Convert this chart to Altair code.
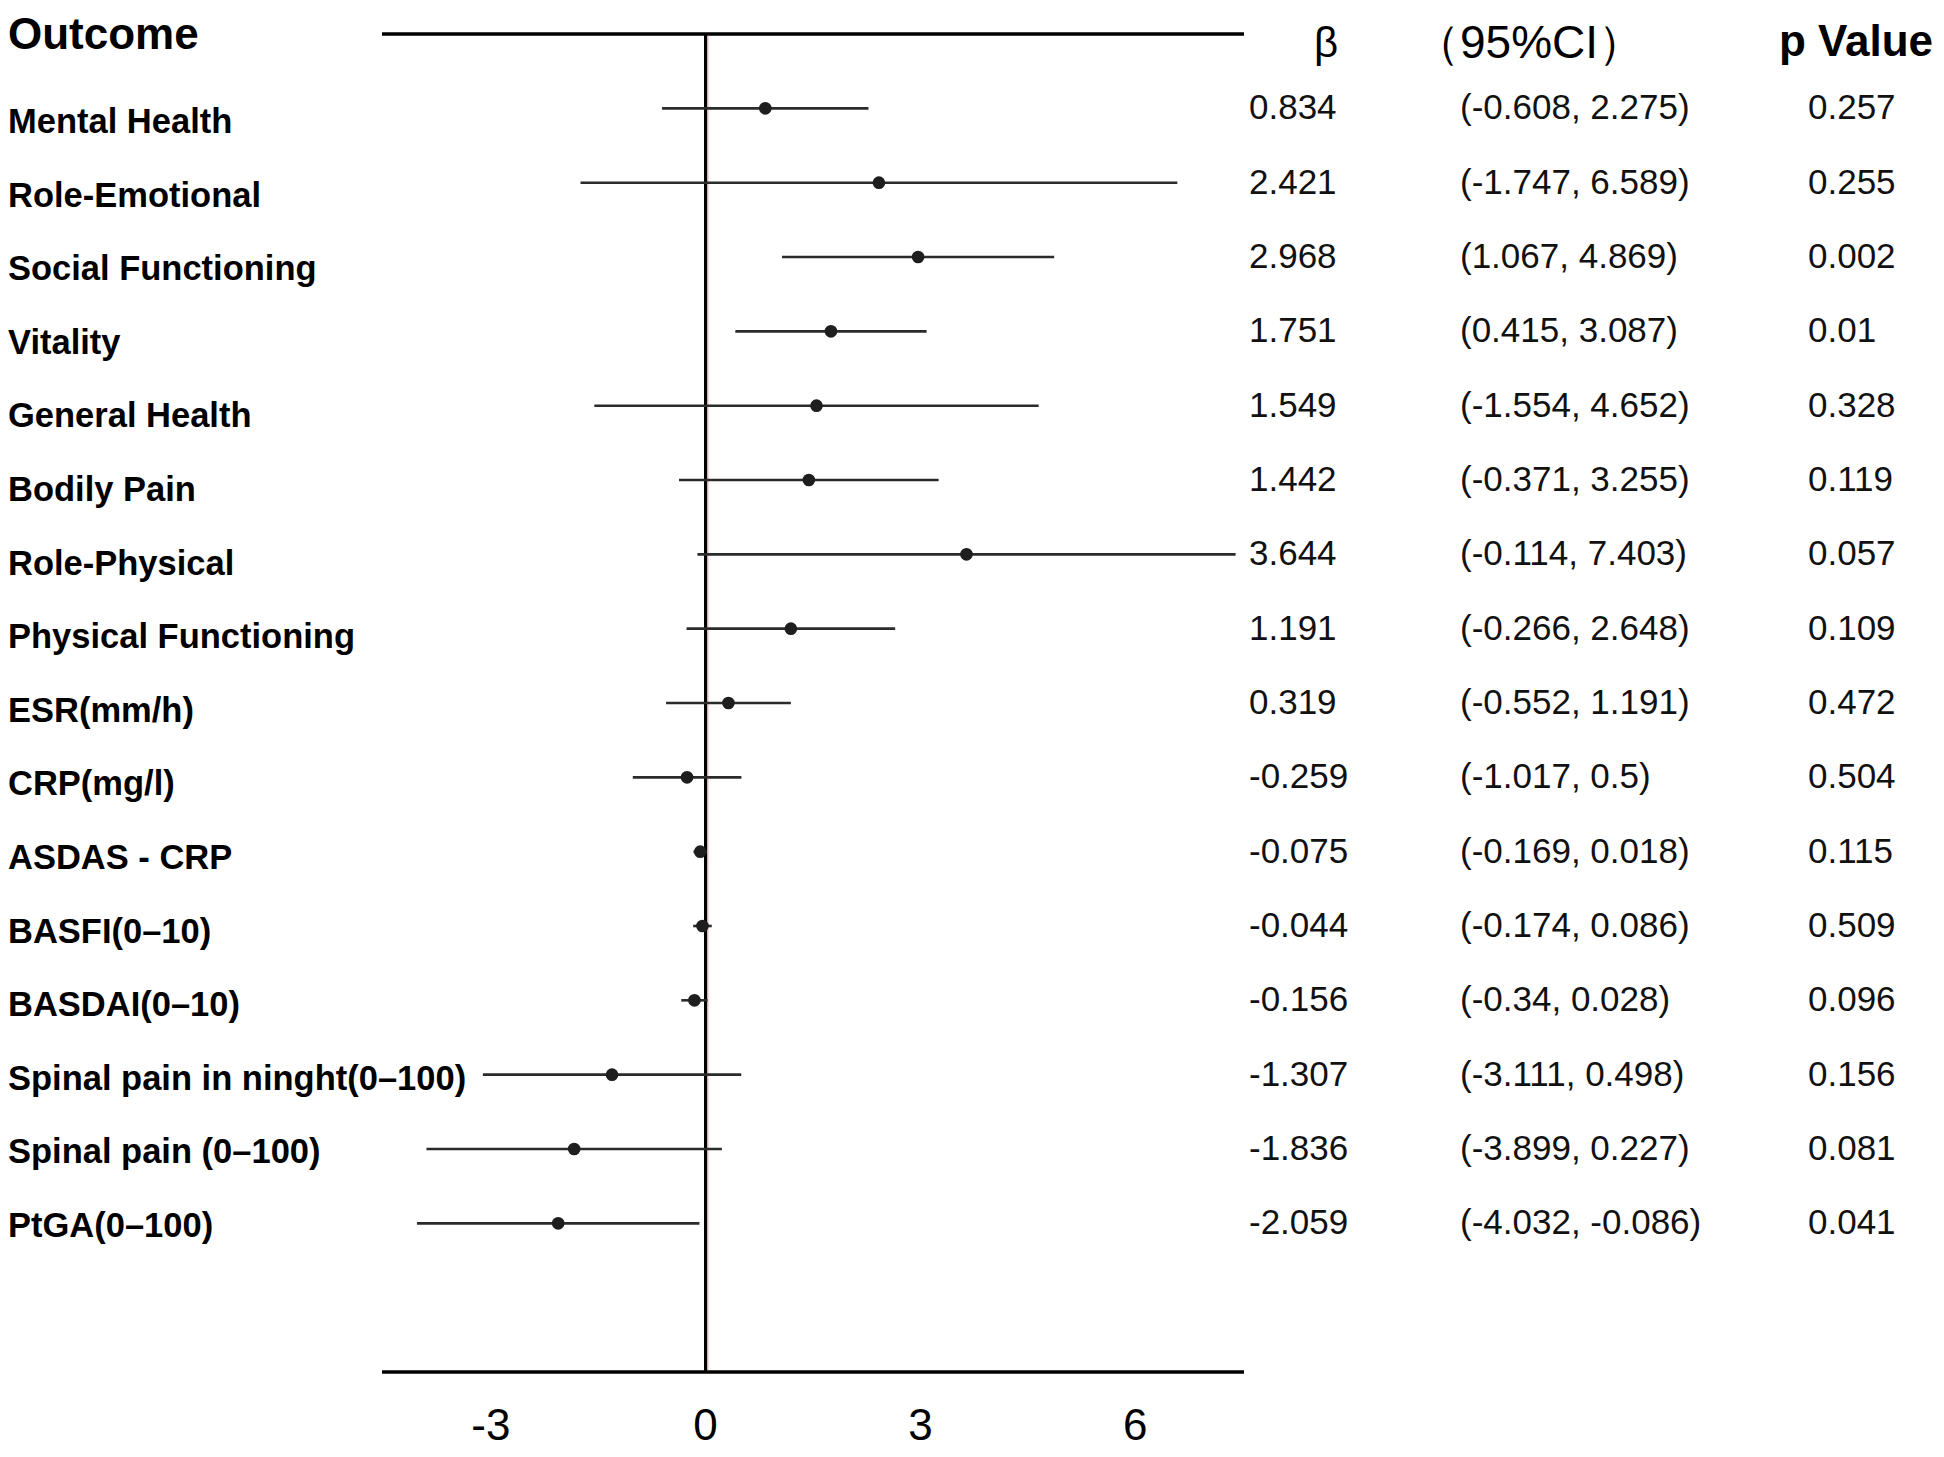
import altair as alt
import pandas as pd

# ---------------- data ----------------
outcomes = [
    "Mental Health", "Role-Emotional", "Social Functioning", "Vitality",
    "General Health", "Bodily Pain", "Role-Physical", "Physical Functioning",
    "ESR(mm/h)", "CRP(mg/l)", "ASDAS - CRP", "BASFI(0–10)", "BASDAI(0–10)",
    "Spinal pain in ninght(0–100)", "Spinal pain (0–100)", "PtGA(0–100)",
]
beta = [0.834, 2.421, 2.968, 1.751, 1.549, 1.442, 3.644, 1.191,
        0.319, -0.259, -0.075, -0.044, -0.156, -1.307, -1.836, -2.059]
ci_low = [-0.608, -1.747, 1.067, 0.415, -1.554, -0.371, -0.114, -0.266,
          -0.552, -1.017, -0.169, -0.174, -0.34, -3.111, -3.899, -4.032]
ci_high = [2.275, 6.589, 4.869, 3.087, 4.652, 3.255, 7.403, 2.648,
           1.191, 0.5, 0.018, 0.086, 0.028, 0.498, 0.227, -0.086]
p_values = ["0.257", "0.255", "0.002", "0.01", "0.328", "0.119", "0.057", "0.109",
            "0.472", "0.504", "0.115", "0.509", "0.096", "0.156", "0.081", "0.041"]
tick_values = [-3, 0, 3, 6]
tick_labels = ["-3", "0", "3", "6"]
axis_range = [-4.52, 7.52]

n = len(outcomes)
df = pd.DataFrame({
    "outcome": outcomes,
    "row": list(range(1, n + 1)),
    "beta": beta,
    "lo": ci_low,
    "hi": ci_high,
    "beta_txt": [str(b) for b in beta],
    "ci_txt": [f"({l}, {h})" for l, h in zip(ci_low, ci_high)],
    "p_txt": p_values,
})
frame = pd.DataFrame({"x": [axis_range[0]] * 2, "x2": [axis_range[1]] * 2, "y": [0, n + 2]})
zero = pd.DataFrame({"x": [0], "y": [0], "y2": [n + 2]})
ticks = pd.DataFrame({"v": tick_values, "lab": tick_labels})

# ---------------- layout ----------------
W, H = 1928, 1441
FONT = "Liberation Sans, Arial, Helvetica, sans-serif"
xs = alt.Scale(domain=[-9.744, 17.186], nice=False, zero=False)
ys = alt.Scale(domain=[-0.35, 19.036], nice=False, zero=False, reverse=True)
ys_lab = alt.Scale(domain=[-0.5625, 19.016], nice=False, zero=False, reverse=True)

X = lambda f: alt.X(f, scale=xs, axis=None)
Y = lambda f: alt.Y(f, scale=ys, axis=None)

frame_lines = alt.Chart(frame).mark_rule(color="black", strokeWidth=3.5).encode(
    x=X("x:Q"), x2="x2", y=Y("y:Q"))

zero_red = alt.Chart(zero).mark_rule(color="#cc2222", strokeWidth=1, opacity=0.3, xOffset=2.5).encode(
    x=X("x:Q"), y=Y("y:Q"), y2="y2")
zero_line = alt.Chart(zero).mark_rule(color="black", strokeWidth=3.2).encode(
    x=X("x:Q"), y=Y("y:Q"), y2="y2")

bars = alt.Chart(df).mark_rule(color="#2b2b2b", strokeWidth=2.6).encode(
    x=X("lo:Q"), x2="hi", y=Y("row:Q"))
pts = alt.Chart(df).mark_point(filled=True, shape="circle", size=160, color="#1e1e1e", opacity=1).encode(
    x=X("beta:Q"), y=Y("row:Q"))

labels = alt.Chart(df).mark_text(align="left", baseline="middle", font=FONT, fontSize=34.5,
                                 fontWeight="bold", color="black").encode(
    x=alt.value(0), y=alt.Y("row:Q", scale=ys_lab, axis=None), text="outcome")

beta_col = alt.Chart(df).mark_text(align="left", baseline="middle", font=FONT, fontSize=35,
                                   color="#111111").encode(
    x=alt.value(1241), y=Y("row:Q"), text="beta_txt")
ci_col = alt.Chart(df).mark_text(align="left", baseline="middle", font=FONT, fontSize=35,
                                 color="#111111").encode(
    x=alt.value(1452), y=Y("row:Q"), text="ci_txt")
p_col = alt.Chart(df).mark_text(align="left", baseline="middle", font=FONT, fontSize=35,
                                color="#111111").encode(
    x=alt.value(1800), y=Y("row:Q"), text="p_txt")

tick_text = alt.Chart(ticks).mark_text(align="center", baseline="alphabetic", font=FONT, fontSize=44,
                                       color="black").encode(
    x=X("v:Q"), y=alt.value(1432), text="lab")

hdr = pd.DataFrame({"t": ["Outcome"]})
h_outcome = alt.Chart(hdr).mark_text(align="left", baseline="top", font=FONT, fontSize=44,
                                     fontWeight="bold", color="black", text="Outcome").encode(
    x=alt.value(0), y=alt.value(6))
h_beta = alt.Chart(hdr).mark_text(align="center", baseline="middle", font=FONT, fontSize=42,
                                  color="black", text="β").encode(
    x=alt.value(1318), y=alt.value(36))
h_ci = alt.Chart(hdr).mark_text(align="center", baseline="middle", font=FONT, fontSize=46,
                                color="black", text="（95%CI）").encode(
    x=alt.value(1521), y=alt.value(36))
h_p = alt.Chart(hdr).mark_text(align="right", baseline="middle", font=FONT, fontSize=44,
                               fontWeight="bold", color="black", text="p Value").encode(
    x=alt.value(1925), y=alt.value(35))

chart = alt.layer(
    frame_lines, zero_red, zero_line, bars, pts, labels, beta_col, ci_col, p_col,
    tick_text, h_outcome, h_beta, h_ci, h_p,
).resolve_scale(y="independent").properties(
    width=W, height=H, padding=0, autosize="none", background="white"
).configure_view(stroke=None)

chart.save("out.html", embed_options={"renderer": "svg", "actions": False})
